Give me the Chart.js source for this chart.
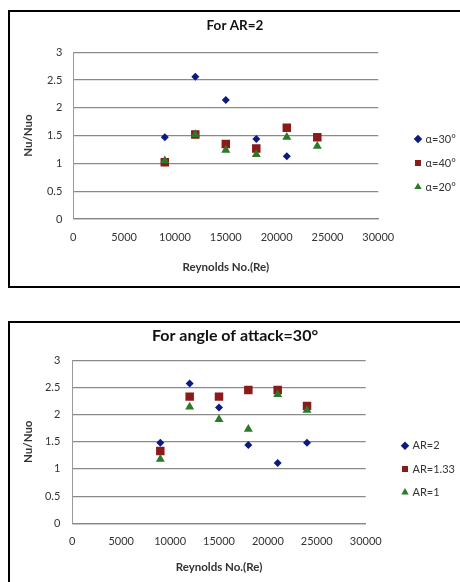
<!DOCTYPE html>
<html>
<head>
<meta charset="utf-8">
<script src="https://cdn.jsdelivr.net/npm/chart.js"></script>
<style>
  body { margin: 0; background: #fff; width: 460px; height: 582px; overflow: hidden; position: relative; }
  .box { position: absolute; left: 8px; width: 470px; border: 2px solid #000; background: #fff; }
  #box1 { top: 10px; height: 274px; }
  #box2 { top: 321px; height: 290px; }
  canvas { display: block; }
</style>
</head>
<body>
<div class="box" id="box1"><canvas id="grafico1" width="450" height="274"></canvas></div>
<div class="box" id="box2"><canvas id="grafico2" width="450" height="260"></canvas></div>

<script>
// Reynolds numbers (x) shared by both charts
const reynolds = [9000, 12000, 15000, 18000, 21000, 24000];

// chart 1 : AR=2, different angles of attack
const alpha30 = [1.47, 2.56, 2.14, 1.44, 1.13, null];
const alpha40 = [1.02, 1.52, 1.35, 1.27, 1.64, 1.47];
const alpha20 = [1.05, 1.52, 1.24, 1.16, 1.47, 1.31];

// chart 2 : angle of attack 30, different AR
const ar2   = [1.48, 2.57, 2.13, 1.44, 1.11, 1.48];
const ar133 = [1.33, 2.33, 2.33, 2.45, 2.45, 2.16];
const ar1   = [1.18, 2.14, 1.91, 1.73, 2.37, 2.08];

// tick labels
const xTicks = [0, 5000, 10000, 15000, 20000, 25000, 30000];
const yTicks = [0, 0.5, 1, 1.5, 2, 2.5, 3];

const NAVY = '#0a1a80', MAROON = '#8b1a1a', GREEN = '#2a7a2a';
const FONT = 'Lato, "Liberation Sans", sans-serif';

function pontos(vals) {
  return reynolds.map((x, i) => ({ x: x, y: vals[i] })).filter(p => p.y !== null);
}

// puts the legend on a fixed spot and centres the title on the whole canvas
const boxPos = {
  id: 'boxPos',
  afterLayout(chart, args, opts) {
    const lg = chart.legend;
    const w = lg.right - lg.left, h = lg.bottom - lg.top;
    lg.left = opts.left; lg.right = opts.left + w;
    lg.top = opts.top; lg.bottom = opts.top + h;
    const t = chart.titleBlock;
    t.left = 0; t.right = chart.width;
  }
};

function serie(label, vals, color, style, radius, ordem) {
  return {
    label: label,
    data: pontos(vals),
    pointStyle: style,
    pointRadius: radius,
    pointHoverRadius: radius,
    backgroundColor: color,
    borderColor: color,
    borderWidth: 0,
    order: ordem
  };
}

function opcoes(cfg) {
  return {
    responsive: false,
    animation: false,
    layout: { padding: { left: 0, right: cfg.padRight, top: 0, bottom: 0 } },
    plugins: {
      title: {
        display: true,
        text: cfg.title,
        color: '#111',
        font: { family: FONT, size: cfg.titleSize, weight: 'bold' },
        padding: { top: cfg.titleTop, bottom: cfg.titleBottom }
      },
      legend: {
        position: 'chartArea',
        align: 'start',
        labels: {
          usePointStyle: true,
          boxWidth: 4,
          boxHeight: 6,
          padding: cfg.legendGap,
          color: '#333',
          font: { family: FONT, size: 11 },
          sort: (a, b) => a.datasetIndex - b.datasetIndex
        }
      },
      boxPos: { left: cfg.legendLeft, top: cfg.legendTop },
      tooltip: { enabled: false }
    },
    scales: {
      x: {
        type: 'linear',
        min: 0, max: 30000,
        afterBuildTicks: s => { s.ticks = xTicks.map(v => ({ value: v })); },
        afterFit: s => { s.height = cfg.xHeight; },
        grid: { display: false, drawTicks: false },
        border: { display: true, color: '#858585', width: 1.2 },
        ticks: {
          autoSkip: false, maxRotation: 0, padding: 12,
          color: '#333', font: { family: FONT, size: 11 },
          callback: v => String(v)
        },
        title: {
          display: true, text: 'Reynolds No.(Re)', color: '#333',
          font: { family: FONT, size: 11.5, weight: 'bold' },
          padding: { top: 0, bottom: cfg.xTitleBottom }
        }
      },
      y: {
        min: 0, max: 3,
        afterBuildTicks: s => { s.ticks = yTicks.map(v => ({ value: v })); },
        afterFit: s => { s.width = cfg.yWidth; },
        grid: { color: '#8a8a8a', lineWidth: 1.2, drawTicks: false },
        border: { display: true, color: '#9a9a9a', width: 1 },
        ticks: {
          padding: cfg.yPad,
          color: '#333', font: { family: FONT, size: 11 },
          callback: v => String(v)
        },
        title: {
          display: true, text: 'Nu/Nuo', color: '#333',
          font: { family: FONT, size: 11.5, weight: 'bold' },
          padding: { top: cfg.yTitleTop, bottom: 0 }
        }
      }
    }
  };
}

/* ====== grafico 1 : For AR=2 ====== */
new Chart(document.getElementById('grafico1'), {
  type: 'scatter',
  data: {
    datasets: [
      serie('α=30°', alpha30, NAVY, 'rectRot', 4, 3),
      serie('α=40°', alpha40, MAROON, 'rect', 6, 2),
      serie('α=20°', alpha20, GREEN, 'triangle', 5.2, 1)
    ]
  },
  options: opcoes({
    title: 'For AR=2', titleSize: 13.5, titleTop: 6, titleBottom: 18,
    padRight: 81.7, yWidth: 63.3, yPad: 11, yTitleTop: 11,
    xHeight: 67, xTitleBottom: 12,
    legendLeft: 393, legendTop: 108.5, legendGap: 13
  }),
  plugins: [boxPos]
});

/* ====== grafico 2 : For angle of attack=30° ====== */
new Chart(document.getElementById('grafico2'), {
  type: 'scatter',
  data: {
    datasets: [
      serie('AR=2', ar2, NAVY, 'rectRot', 4, 3),
      serie('AR=1.33', ar133, MAROON, 'rect', 6, 2),
      serie('AR=1', ar1, GREEN, 'triangle', 5.2, 1)
    ]
  },
  options: opcoes({
    title: 'For angle of attack=30°', titleSize: 16, titleTop: 3, titleBottom: 15,
    padRight: 94.3, yWidth: 62.3, yPad: 12, yTitleTop: 11,
    xHeight: 59.7, xTitleBottom: 9,
    legendLeft: 380.7, legendTop: 104.9, legendGap: 12.3
  }),
  plugins: [boxPos]
});
</script>
</body>
</html>
